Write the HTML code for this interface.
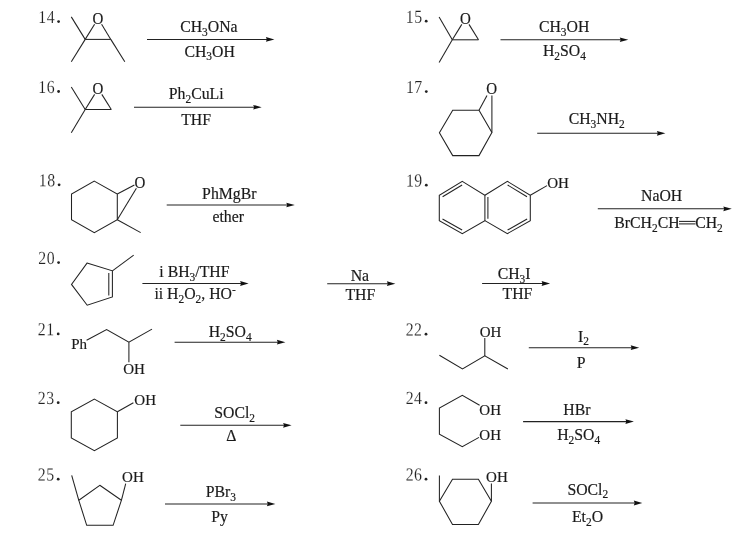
<!DOCTYPE html>
<html lang="en">
<head>
<meta charset="utf-8">
<title>Reactions 14-26</title>
<style>
html,body{margin:0;padding:0;background:#fff;}
body{width:746px;height:542px;overflow:hidden;font-family:"Liberation Serif",serif;}
svg{display:block;filter:grayscale(1);}
.b line,.b polyline,.b polygon{stroke:#222;stroke-width:1.05;fill:none;stroke-linecap:butt;stroke-linejoin:miter;}
.a path{fill:#111;stroke:none;}
text{font-family:"Liberation Serif",serif;fill:#1a1a1a;}
text.f{stroke:#1a1a1a;stroke-width:0.18px;}
text.n{fill:#222;stroke:#fff;stroke-width:0.12px;paint-order:fill;}
circle.dot{fill:#222;}
</style>
</head>
<body>
<svg width="746" height="542" viewBox="0 0 746 542">
<rect x="0" y="0" width="746" height="542" fill="#ffffff"/>
<g class="b">
<line x1="85.2" y1="39.4" x2="110.8" y2="39.4"/>
<line x1="85.2" y1="39.4" x2="71.3" y2="16.9"/>
<line x1="85.2" y1="39.4" x2="71.3" y2="61.8"/>
<line x1="110.8" y1="39.4" x2="124.8" y2="61.8"/>
<line x1="85.2" y1="39.4" x2="94.6" y2="24.3"/>
<line x1="110.8" y1="39.4" x2="101.6" y2="24.3"/>
<line x1="147.0" y1="39.5" x2="267.9" y2="39.5"/>
<line x1="85.2" y1="109.5" x2="111.3" y2="109.5"/>
<line x1="85.2" y1="109.5" x2="71.3" y2="87.0"/>
<line x1="85.2" y1="109.5" x2="71.3" y2="132.7"/>
<line x1="85.2" y1="109.5" x2="94.6" y2="94.4"/>
<line x1="111.3" y1="109.5" x2="101.8" y2="94.4"/>
<line x1="134.0" y1="107.2" x2="255.2" y2="107.2"/>
<line x1="452.3" y1="39.8" x2="478.5" y2="39.8"/>
<line x1="452.3" y1="39.8" x2="439.1" y2="17.1"/>
<line x1="452.3" y1="39.8" x2="439.1" y2="62.6"/>
<line x1="452.3" y1="39.8" x2="461.8" y2="24.4"/>
<line x1="478.5" y1="39.8" x2="469.0" y2="24.4"/>
<line x1="500.5" y1="39.7" x2="621.8" y2="39.7"/>
<polygon points="452.7,110.3 479.0,110.3 491.9,132.5 479.0,155.6 452.7,155.6 439.4,132.8"/>
<line x1="479.0" y1="110.3" x2="487.0" y2="95.4"/>
<line x1="491.9" y1="132.5" x2="491.9" y2="95.4"/>
<line x1="537.2" y1="133.3" x2="658.9" y2="133.3"/>
<polygon points="94.3,181.1 117.3,194.0 117.3,219.7 94.3,232.6 71.5,219.7 71.5,194.0"/>
<line x1="117.3" y1="194.0" x2="134.4" y2="185.0"/>
<line x1="117.3" y1="219.7" x2="136.4" y2="188.2"/>
<line x1="117.3" y1="219.7" x2="140.7" y2="232.6"/>
<line x1="166.7" y1="205.0" x2="288.3" y2="205.0"/>
<polygon points="462.3,181.4 484.9,195.2 484.9,220.6 462.3,233.6 439.3,220.6 439.3,195.2"/>
<polyline points="484.9,195.2 507.4,181.4 530.3,195.2 530.3,220.6 507.4,233.6 484.9,220.6"/>
<line x1="442.6" y1="196.7" x2="462.1" y2="185.0"/>
<line x1="442.5" y1="219.0" x2="462.1" y2="230.0"/>
<line x1="487.9" y1="197.1" x2="487.9" y2="218.7"/>
<line x1="507.6" y1="185.0" x2="527.0" y2="196.7"/>
<line x1="507.6" y1="230.0" x2="527.1" y2="219.0"/>
<line x1="530.3" y1="195.2" x2="547.0" y2="185.6"/>
<line x1="597.8" y1="208.8" x2="725.3" y2="208.8"/>
<line x1="679.0" y1="221.4" x2="695.6" y2="221.4"/>
<line x1="679.0" y1="223.9" x2="695.6" y2="223.9"/>
<polygon points="87.0,263.1 112.4,270.8 112.4,296.9 87.2,305.2 71.5,284.4"/>
<line x1="108.8" y1="273.0" x2="108.8" y2="295.4"/>
<line x1="112.4" y1="270.8" x2="133.7" y2="255.2"/>
<line x1="142.4" y1="283.5" x2="242.1" y2="283.5"/>
<line x1="327.2" y1="283.7" x2="388.9" y2="283.7"/>
<line x1="482.1" y1="283.5" x2="543.6" y2="283.5"/>
<polyline points="86.6,340.2 106.6,329.6 128.9,342.2 152.0,329.1"/>
<line x1="128.9" y1="342.2" x2="128.9" y2="362.2"/>
<line x1="174.6" y1="342.2" x2="278.9" y2="342.2"/>
<polyline points="439.4,355.3 462.5,369.0 484.8,355.9 507.9,369.0"/>
<line x1="484.8" y1="355.9" x2="484.8" y2="338.0"/>
<line x1="528.8" y1="347.7" x2="632.7" y2="347.7"/>
<polygon points="94.4,399.1 117.4,411.8 117.4,437.9 94.4,450.7 71.3,437.9 71.3,411.8"/>
<line x1="117.4" y1="411.8" x2="133.4" y2="402.7"/>
<line x1="180.3" y1="425.3" x2="285.1" y2="425.3"/>
<polyline points="479.6,405.2 462.3,395.3 439.4,408.1 439.4,434.2 462.3,446.6 479.0,437.4"/>
<line x1="523.1" y1="421.6" x2="627.4" y2="421.6"/>
<polygon points="99.8,485.3 121.4,500.3 113.1,525.3 86.7,525.3 78.8,500.3"/>
<line x1="78.8" y1="500.3" x2="71.7" y2="475.4"/>
<line x1="121.4" y1="500.3" x2="125.7" y2="483.7"/>
<line x1="165.0" y1="503.9" x2="268.9" y2="503.9"/>
<polygon points="452.5,479.3 478.4,479.3 491.4,501.3 478.4,524.4 452.5,524.4 439.4,501.3"/>
<line x1="439.4" y1="501.3" x2="439.4" y2="475.6"/>
<line x1="491.4" y1="501.3" x2="491.4" y2="483.6"/>
<line x1="532.6" y1="503.0" x2="635.8" y2="503.0"/>
</g>
<g class="a">
<path d="M274.4,39.5 L265.9,37.1 L266.8,39.5 L265.9,41.8 Z"/>
<path d="M261.7,107.2 L253.2,104.9 L254.1,107.2 L253.2,109.5 Z"/>
<path d="M628.3,39.7 L619.8,37.4 L620.7,39.7 L619.8,42.1 Z"/>
<path d="M665.4,133.3 L656.9,131.0 L657.8,133.3 L656.9,135.7 Z"/>
<path d="M294.8,205.0 L286.3,202.7 L287.2,205.0 L286.3,207.3 Z"/>
<path d="M731.8,208.8 L723.3,206.5 L724.2,208.8 L723.3,211.2 Z"/>
<path d="M248.6,283.5 L240.1,281.1 L241.0,283.5 L240.1,285.9 Z"/>
<path d="M395.4,283.7 L386.9,281.3 L387.8,283.7 L386.9,286.1 Z"/>
<path d="M550.1,283.5 L541.6,281.1 L542.5,283.5 L541.6,285.9 Z"/>
<path d="M285.4,342.2 L276.9,339.8 L277.8,342.2 L276.9,344.6 Z"/>
<path d="M639.2,347.7 L630.7,345.3 L631.6,347.7 L630.7,350.1 Z"/>
<path d="M291.6,425.3 L283.1,422.9 L284.0,425.3 L283.1,427.7 Z"/>
<path d="M633.9,421.6 L625.4,419.2 L626.3,421.6 L625.4,424.0 Z"/>
<path d="M275.4,503.9 L266.9,501.5 L267.8,503.9 L266.9,506.2 Z"/>
<path d="M642.3,503.0 L633.8,500.6 L634.7,503.0 L633.8,505.4 Z"/>
</g>
<g class="t">
<text class="n" transform="translate(42.2,23.0) scale(0.93,1.08) rotate(0.03)" x="0" y="0" text-anchor="middle" font-size="17.0">1</text>
<text class="n" transform="translate(50.6,23.0) scale(0.93,1.08) rotate(0.03)" x="0" y="0" text-anchor="middle" font-size="17.0">4</text>
<circle class="dot" cx="58.6" cy="21.6" r="1.4"/>
<text class="f" transform="translate(98.0,23.8) scale(1,1.12)" x="0" y="0" text-anchor="middle" font-size="15.0">O</text>
<text class="f" transform="translate(208.9,31.8) scale(1,1.04)" x="0" y="0" text-anchor="middle" font-size="15.8">CH<tspan font-size="11.4" dy="3.6">3</tspan><tspan dy="-3.6" font-size="1">&#8203;</tspan>ONa</text>
<text class="f" transform="translate(209.6,56.7) scale(1,1.04)" x="0" y="0" text-anchor="middle" font-size="15.8">CH<tspan font-size="11.4" dy="3.6">3</tspan><tspan dy="-3.6" font-size="1">&#8203;</tspan>OH</text>
<text class="n" transform="translate(42.2,93.0) scale(0.93,1.08) rotate(0.03)" x="0" y="0" text-anchor="middle" font-size="17.0">1</text>
<text class="n" transform="translate(50.6,93.0) scale(0.93,1.08) rotate(0.03)" x="0" y="0" text-anchor="middle" font-size="17.0">6</text>
<circle class="dot" cx="58.6" cy="91.5" r="1.4"/>
<text class="f" transform="translate(98.0,93.8) scale(1,1.12)" x="0" y="0" text-anchor="middle" font-size="15.0">O</text>
<text class="f" transform="translate(196.2,98.8) scale(1,1.04)" x="0" y="0" text-anchor="middle" font-size="15.8">Ph<tspan font-size="11.4" dy="3.6">2</tspan><tspan dy="-3.6" font-size="1">&#8203;</tspan>CuLi</text>
<text class="f" transform="translate(196.1,124.7) scale(1,1.04)" x="0" y="0" text-anchor="middle" font-size="15.8">THF</text>
<text class="n" transform="translate(409.8,22.7) scale(0.93,1.08) rotate(0.03)" x="0" y="0" text-anchor="middle" font-size="17.0">1</text>
<text class="n" transform="translate(418.2,22.7) scale(0.93,1.08) rotate(0.03)" x="0" y="0" text-anchor="middle" font-size="17.0">5</text>
<circle class="dot" cx="426.2" cy="21.2" r="1.4"/>
<text class="f" transform="translate(465.5,23.8) scale(1,1.12)" x="0" y="0" text-anchor="middle" font-size="15.0">O</text>
<text class="f" transform="translate(564.1,31.8) scale(1,1.04)" x="0" y="0" text-anchor="middle" font-size="15.8">CH<tspan font-size="11.4" dy="3.6">3</tspan><tspan dy="-3.6" font-size="1">&#8203;</tspan>OH</text>
<text class="f" transform="translate(564.4,56.4) scale(1,1.04)" x="0" y="0" text-anchor="middle" font-size="15.8">H<tspan font-size="11.4" dy="3.6">2</tspan><tspan dy="-3.6" font-size="1">&#8203;</tspan>SO<tspan font-size="11.4" dy="3.6">4</tspan><tspan dy="-3.6" font-size="1">&#8203;</tspan></text>
<text class="n" transform="translate(409.9,93.1) scale(0.93,1.08) rotate(0.03)" x="0" y="0" text-anchor="middle" font-size="17.0">1</text>
<text class="n" transform="translate(418.3,93.1) scale(0.93,1.08) rotate(0.03)" x="0" y="0" text-anchor="middle" font-size="17.0">7</text>
<circle class="dot" cx="426.3" cy="91.6" r="1.4"/>
<text class="f" transform="translate(491.6,94.0) scale(1,1.12)" x="0" y="0" text-anchor="middle" font-size="15.0">O</text>
<text class="f" transform="translate(596.7,124.3) scale(1,1.04)" x="0" y="0" text-anchor="middle" font-size="15.8">CH<tspan font-size="11.4" dy="3.6">3</tspan><tspan dy="-3.6" font-size="1">&#8203;</tspan>NH<tspan font-size="11.4" dy="3.6">2</tspan><tspan dy="-3.6" font-size="1">&#8203;</tspan></text>
<text class="n" transform="translate(42.7,186.2) scale(0.93,1.08) rotate(0.03)" x="0" y="0" text-anchor="middle" font-size="17.0">1</text>
<text class="n" transform="translate(51.1,186.2) scale(0.93,1.08) rotate(0.03)" x="0" y="0" text-anchor="middle" font-size="17.0">8</text>
<circle class="dot" cx="59.1" cy="184.8" r="1.4"/>
<text class="f" transform="translate(139.9,187.6) scale(1,1.12)" x="0" y="0" text-anchor="middle" font-size="15.0">O</text>
<text class="f" transform="translate(229.3,198.5) scale(1,1.04)" x="0" y="0" text-anchor="middle" font-size="15.8">PhMgBr</text>
<text class="f" transform="translate(228.2,221.5) scale(1,1.04)" x="0" y="0" text-anchor="middle" font-size="15.8">ether</text>
<text class="n" transform="translate(409.9,186.6) scale(0.93,1.08) rotate(0.03)" x="0" y="0" text-anchor="middle" font-size="17.0">1</text>
<text class="n" transform="translate(418.3,186.6) scale(0.93,1.08) rotate(0.03)" x="0" y="0" text-anchor="middle" font-size="17.0">9</text>
<circle class="dot" cx="426.3" cy="185.2" r="1.4"/>
<text class="f" transform="translate(558.0,187.9) scale(1,1.04)" x="0" y="0" text-anchor="middle" font-size="15.0">OH</text>
<text class="f" transform="translate(661.6,201.1) scale(1,1.04)" x="0" y="0" text-anchor="middle" font-size="15.8">NaOH</text>
<text class="f" transform="translate(614.3,227.9) scale(1,1.04)" x="0" y="0" text-anchor="start" font-size="15.8">BrCH<tspan font-size="11.4" dy="3.6">2</tspan><tspan dy="-3.6" font-size="1">&#8203;</tspan>CH</text>
<text class="f" transform="translate(722.8,227.9) scale(1,1.04)" x="0" y="0" text-anchor="end" font-size="15.8">CH<tspan font-size="11.4" dy="3.6">2</tspan><tspan dy="-3.6" font-size="1">&#8203;</tspan></text>
<text class="n" transform="translate(42.2,264.0) scale(0.93,1.08) rotate(0.03)" x="0" y="0" text-anchor="middle" font-size="17.0">2</text>
<text class="n" transform="translate(50.6,264.0) scale(0.93,1.08) rotate(0.03)" x="0" y="0" text-anchor="middle" font-size="17.0">0</text>
<circle class="dot" cx="58.6" cy="262.6" r="1.4"/>
<text class="f" transform="translate(194.4,277.2) scale(1,1.04)" x="0" y="0" text-anchor="middle" font-size="15.8">i BH<tspan font-size="11.4" dy="3.6">3</tspan><tspan dy="-3.6" font-size="1">&#8203;</tspan>/THF</text>
<text class="f" transform="translate(195.1,299.3) scale(1,1.04)" x="0" y="0" text-anchor="middle" font-size="15.8">ii H<tspan font-size="11.4" dy="3.6">2</tspan><tspan dy="-3.6" font-size="1">&#8203;</tspan>O<tspan font-size="11.4" dy="3.6">2</tspan><tspan dy="-3.6" font-size="1">&#8203;</tspan>, HO<tspan font-size="11.4" dy="-5">-</tspan><tspan dy="5" font-size="1">&#8203;</tspan></text>
<text class="f" transform="translate(359.9,281.3) scale(1,1.04)" x="0" y="0" text-anchor="middle" font-size="15.8">Na</text>
<text class="f" transform="translate(360.3,299.6) scale(1,1.04)" x="0" y="0" text-anchor="middle" font-size="15.8">THF</text>
<text class="f" transform="translate(514.1,279.4) scale(1,1.04)" x="0" y="0" text-anchor="middle" font-size="15.8">CH<tspan font-size="11.4" dy="3.6">3</tspan><tspan dy="-3.6" font-size="1">&#8203;</tspan>I</text>
<text class="f" transform="translate(517.4,299.0) scale(1,1.04)" x="0" y="0" text-anchor="middle" font-size="15.8">THF</text>
<text class="n" transform="translate(41.8,335.3) scale(0.93,1.08) rotate(0.03)" x="0" y="0" text-anchor="middle" font-size="17.0">2</text>
<text class="n" transform="translate(50.2,335.3) scale(0.93,1.08) rotate(0.03)" x="0" y="0" text-anchor="middle" font-size="17.0">1</text>
<circle class="dot" cx="58.2" cy="333.9" r="1.4"/>
<text class="f" transform="translate(71.2,348.8) scale(1,1.04)" x="0" y="0" text-anchor="start" font-size="15.0">Ph</text>
<text class="f" transform="translate(134.0,374.1) scale(1,1.04)" x="0" y="0" text-anchor="middle" font-size="15.0">OH</text>
<text class="f" transform="translate(230.2,337.0) scale(1,1.04)" x="0" y="0" text-anchor="middle" font-size="15.8">H<tspan font-size="11.4" dy="3.6">2</tspan><tspan dy="-3.6" font-size="1">&#8203;</tspan>SO<tspan font-size="11.4" dy="3.6">4</tspan><tspan dy="-3.6" font-size="1">&#8203;</tspan></text>
<text class="n" transform="translate(409.6,335.6) scale(0.93,1.08) rotate(0.03)" x="0" y="0" text-anchor="middle" font-size="17.0">2</text>
<text class="n" transform="translate(418.0,335.6) scale(0.93,1.08) rotate(0.03)" x="0" y="0" text-anchor="middle" font-size="17.0">2</text>
<circle class="dot" cx="426.0" cy="334.2" r="1.4"/>
<text class="f" transform="translate(490.6,336.6) scale(1,1.04)" x="0" y="0" text-anchor="middle" font-size="15.0">OH</text>
<text class="f" transform="translate(583.4,341.7) scale(1,1.04)" x="0" y="0" text-anchor="middle" font-size="15.8">I<tspan font-size="11.4" dy="3.6">2</tspan><tspan dy="-3.6" font-size="1">&#8203;</tspan></text>
<text class="f" transform="translate(581.2,367.5) scale(1,1.04)" x="0" y="0" text-anchor="middle" font-size="15.8">P</text>
<text class="n" transform="translate(41.8,404.1) scale(0.93,1.08) rotate(0.03)" x="0" y="0" text-anchor="middle" font-size="17.0">2</text>
<text class="n" transform="translate(50.2,404.1) scale(0.93,1.08) rotate(0.03)" x="0" y="0" text-anchor="middle" font-size="17.0">3</text>
<circle class="dot" cx="58.2" cy="402.7" r="1.4"/>
<text class="f" transform="translate(145.2,405.3) scale(1,1.04)" x="0" y="0" text-anchor="middle" font-size="15.0">OH</text>
<text class="f" transform="translate(234.6,417.8) scale(1,1.04)" x="0" y="0" text-anchor="middle" font-size="15.8">SOCl<tspan font-size="11.4" dy="3.6">2</tspan><tspan dy="-3.6" font-size="1">&#8203;</tspan></text>
<text class="f" transform="translate(231.4,440.7) scale(1,1.04)" x="0" y="0" text-anchor="middle" font-size="15.8">&#916;</text>
<text class="n" transform="translate(409.6,404.1) scale(0.93,1.08) rotate(0.03)" x="0" y="0" text-anchor="middle" font-size="17.0">2</text>
<text class="n" transform="translate(418.0,404.1) scale(0.93,1.08) rotate(0.03)" x="0" y="0" text-anchor="middle" font-size="17.0">4</text>
<circle class="dot" cx="426.0" cy="402.7" r="1.4"/>
<text class="f" transform="translate(490.2,414.6) scale(1,1.04)" x="0" y="0" text-anchor="middle" font-size="15.0">OH</text>
<text class="f" transform="translate(490.2,440.4) scale(1,1.04)" x="0" y="0" text-anchor="middle" font-size="15.0">OH</text>
<text class="f" transform="translate(576.9,414.6) scale(1,1.04)" x="0" y="0" text-anchor="middle" font-size="15.8">HBr</text>
<text class="f" transform="translate(578.7,440.2) scale(1,1.04)" x="0" y="0" text-anchor="middle" font-size="15.8">H<tspan font-size="11.4" dy="3.6">2</tspan><tspan dy="-3.6" font-size="1">&#8203;</tspan>SO<tspan font-size="11.4" dy="3.6">4</tspan><tspan dy="-3.6" font-size="1">&#8203;</tspan></text>
<text class="n" transform="translate(41.8,480.6) scale(0.93,1.08) rotate(0.03)" x="0" y="0" text-anchor="middle" font-size="17.0">2</text>
<text class="n" transform="translate(50.2,480.6) scale(0.93,1.08) rotate(0.03)" x="0" y="0" text-anchor="middle" font-size="17.0">5</text>
<circle class="dot" cx="58.2" cy="479.2" r="1.4"/>
<text class="f" transform="translate(132.9,482.1) scale(1,1.04)" x="0" y="0" text-anchor="middle" font-size="15.0">OH</text>
<text class="f" transform="translate(220.9,497.0) scale(1,1.04)" x="0" y="0" text-anchor="middle" font-size="15.8">PBr<tspan font-size="11.4" dy="3.6">3</tspan><tspan dy="-3.6" font-size="1">&#8203;</tspan></text>
<text class="f" transform="translate(219.6,522.3) scale(1,1.04)" x="0" y="0" text-anchor="middle" font-size="15.8">Py</text>
<text class="n" transform="translate(409.6,480.6) scale(0.93,1.08) rotate(0.03)" x="0" y="0" text-anchor="middle" font-size="17.0">2</text>
<text class="n" transform="translate(418.0,480.6) scale(0.93,1.08) rotate(0.03)" x="0" y="0" text-anchor="middle" font-size="17.0">6</text>
<circle class="dot" cx="426.0" cy="479.2" r="1.4"/>
<text class="f" transform="translate(496.9,482.1) scale(1,1.04)" x="0" y="0" text-anchor="middle" font-size="15.0">OH</text>
<text class="f" transform="translate(587.8,494.7) scale(1,1.04)" x="0" y="0" text-anchor="middle" font-size="15.8">SOCl<tspan font-size="11.4" dy="3.6">2</tspan><tspan dy="-3.6" font-size="1">&#8203;</tspan></text>
<text class="f" transform="translate(587.5,521.9) scale(1,1.04)" x="0" y="0" text-anchor="middle" font-size="15.8">Et<tspan font-size="11.4" dy="3.6">2</tspan><tspan dy="-3.6" font-size="1">&#8203;</tspan>O</text>
</g>
</svg>
</body>
</html>
